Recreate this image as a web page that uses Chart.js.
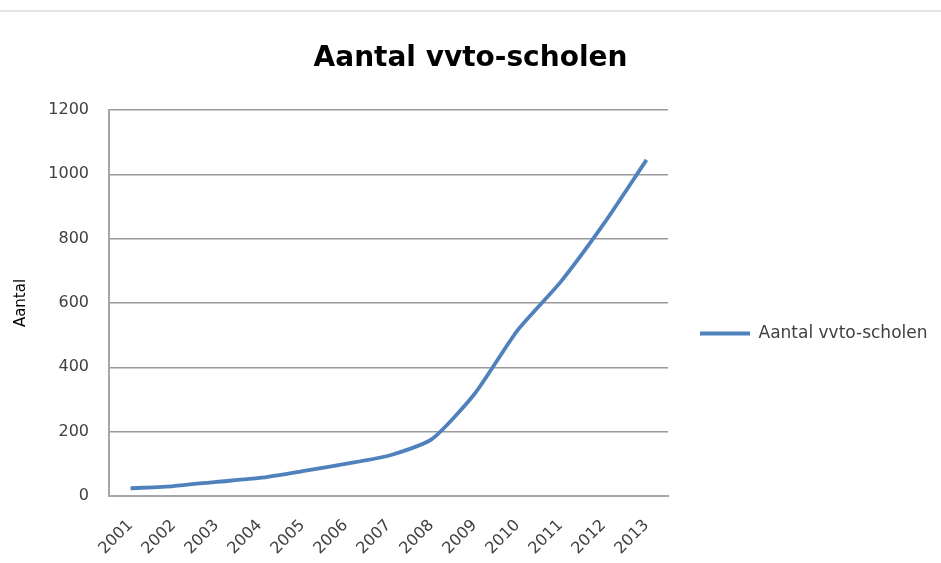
<!DOCTYPE html>
<html>
<head>
<meta charset="utf-8">
<script src="https://cdn.jsdelivr.net/npm/chart.js@4"></script>
<style>
html,body{margin:0;padding:0;background:#fff;}
#wrap{position:relative;width:941px;height:563px;}
#topline{position:absolute;left:0;top:10px;width:941px;height:2px;background:#e6e6e6;}
canvas{position:absolute;left:0;top:0;}
</style>
</head>
<body>
<div id="wrap">
<canvas id="c" width="941" height="563"></canvas>
<div id="topline"></div>
</div>
<script>
const categories = ['2001','2002','2003','2004','2005','2006','2007','2008','2009','2010','2011','2012','2013'];
const seriesName = 'Aantal vvto-scholen';
const values = [24, 31, 44, 56, 77, 100, 125, 176, 317, 515, 665, 845, 1045];
const yTicks = [0, 200, 400, 600, 800, 1000, 1200];
const titleText = 'Aantal vvto-scholen';
const yTitle = 'Aantal';

const textColor = '#404040';
const LEGEND_WIDTH = 273;
const LEGEND_SHIFT = 52;

const legendWidthPlugin = {
  id: 'legendWidth',
  beforeUpdate(chart) {
    const lg = chart.legend;
    if (lg && !lg._patched) {
      const orig = lg.fit.bind(lg);
      lg.fit = function () {
        orig();
        this.width = LEGEND_WIDTH;
      };
      lg._patched = true;
    }
  },
  afterLayout(chart) {
    const lg = chart.legend;
    if (lg) {
      lg.top += LEGEND_SHIFT;
      lg.bottom += LEGEND_SHIFT;
    }
  }
};

new Chart(document.getElementById('c'), {
  type: 'line',
  plugins: [legendWidthPlugin],
  data: {
    labels: categories,
    datasets: [{
      label: seriesName,
      data: values,
      borderColor: '#4F81BD',
      backgroundColor: '#4F81BD',
      borderWidth: 3.8,
      pointRadius: 0,
      tension: 0.2,
      fill: false
    }]
  },
  options: {
    responsive: false,
    animation: false,
    layout: { padding: { left: 0, right: 0, top: 0, bottom: 0 } },
    plugins: {
      title: {
        display: true,
        text: titleText,
        color: '#000',
        font: { family: 'DejaVu Sans', size: 28, weight: 'bold' },
        padding: { top: 42, bottom: 34.4 }
      },
      legend: {
        position: 'right',
        labels: {
          usePointStyle: true,
          pointStyle: 'line',
          pointStyleWidth: 50,
          boxWidth: 50,
          padding: 32,
          color: textColor,
          font: { family: 'DejaVu Sans', size: 17 }
        }
      },
      tooltip: { enabled: false }
    },
    scales: {
      x: {
        offset: true,
        grid: { display: false, drawTicks: false },
        border: { display: true, color: '#A6A6A6', width: 2 },
        ticks: {
          color: textColor,
          font: { family: 'DejaVu Sans', size: 16 },
          maxRotation: 45,
          minRotation: 45,
          padding: 20
        },
        afterFit: s => { s.height = 67; }
      },
      y: {
        min: 0,
        max: 1200,
        afterBuildTicks: s => { s.ticks = yTicks.map(v => ({ value: v })); },
        grid: { color: '#9A9A9A', lineWidth: 1.5, drawTicks: false },
        border: { display: true, color: '#A6A6A6', width: 2 },
        ticks: {
          color: textColor,
          font: { family: 'DejaVu Sans', size: 16 },
          padding: 20,
          callback: v => String(v)
        },
        title: {
          display: true,
          text: yTitle,
          color: '#000',
          font: { family: 'DejaVu Sans', size: 15 },
          padding: { top: 12, bottom: 0 }
        },
        afterFit: s => { s.width = 109; }
      }
    }
  }
});
</script>
</body>
</html>
